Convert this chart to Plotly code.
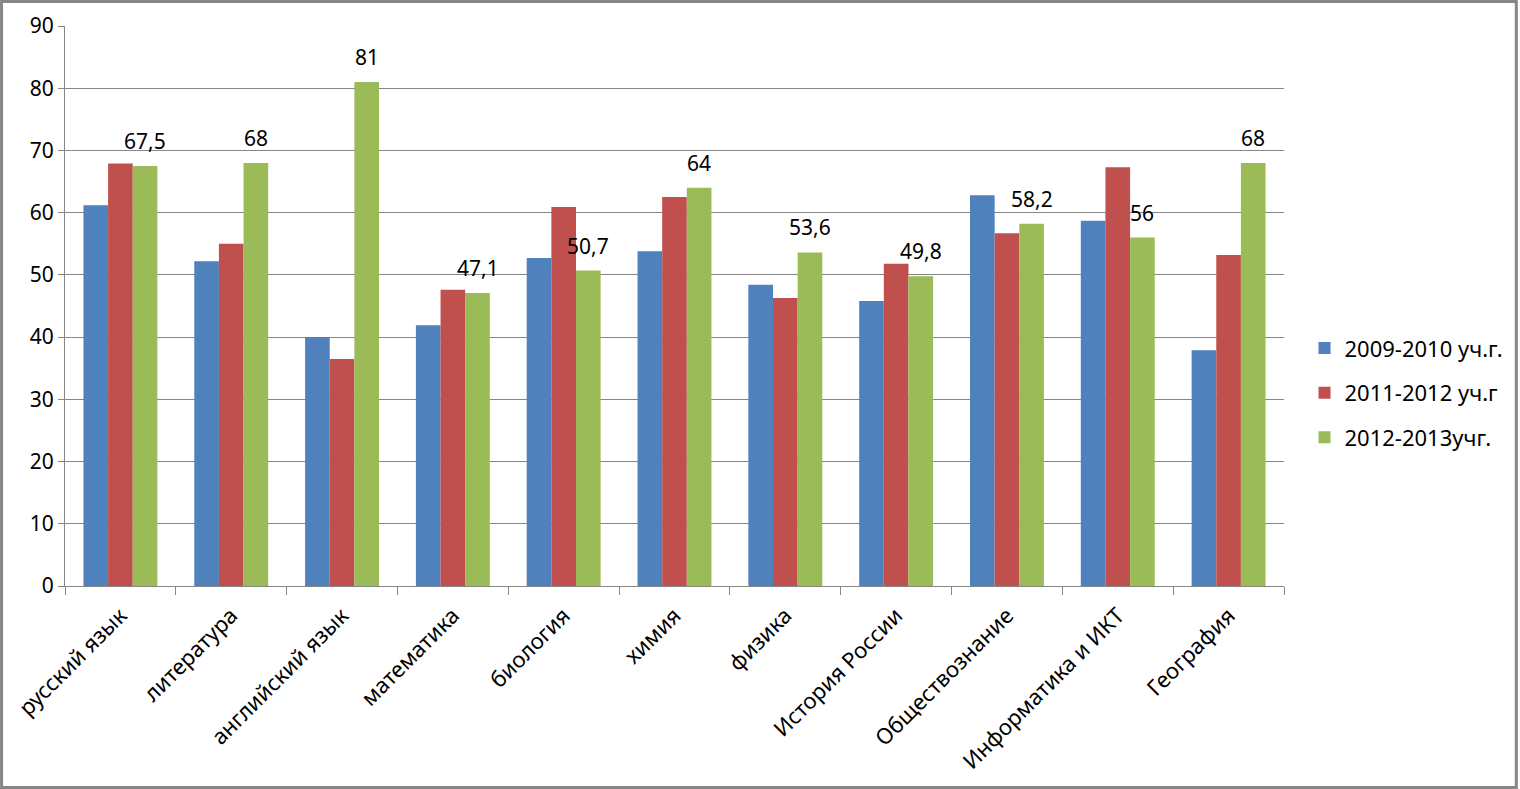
import plotly.graph_objects as go

categories = ["русский язык", "литература", "английский язык", "математика", "биология",
              "химия", "физика", "История России", "Обществознание", "Информатика и ИКТ", "География"]
series_names = ["2009-2010 уч.г.", "2011-2012 уч.г", "2012-2013учг."]
v2009 = [61.2, 52.2, 40.0, 41.9, 52.7, 53.8, 48.4, 45.8, 62.8, 58.7, 37.9]
v2011 = [67.9, 55.0, 36.5, 47.6, 60.9, 62.5, 46.3, 51.8, 56.7, 67.3, 53.2]
v2012 = [67.5, 68, 81, 47.1, 50.7, 64, 53.6, 49.8, 58.2, 56, 68]
colors = ["#4F81BD", "#C0504D", "#9BBB59"]
y_ticks = [0, 10, 20, 30, 40, 50, 60, 70, 80, 90]

FONT = "Noto Sans"
W, H = 1520, 789
ML, MR, MT, MB = 65, 235, 26, 203
BARGAP = 0.333

def fmt(v):
    return ("%g" % v).replace(".", ",")

fig = go.Figure()
for i, (name, vals) in enumerate(zip(series_names, [v2009, v2011, v2012])):
    fig.add_trace(go.Bar(x=categories, y=vals, name=name, marker_color=colors[i],
                         marker_line_width=0, legendgroup=name))

pw = W - ML - MR
ph = H - MT - MB
bar_w = pw / len(categories) * (1 - BARGAP) / 3

for c, v in zip(categories, v2012):
    fig.add_annotation(x=c, y=v, text=fmt(v), showarrow=False, xref="x", yref="y",
                       xanchor="center", yanchor="bottom", xshift=bar_w, yshift=9,
                       font=dict(size=21, color="black", family=FONT))

fig.add_shape(type="rect", xref="paper", yref="paper",
              x0=(1.5 - ML) / pw, x1=1 + (MR - 2.5) / pw,
              y0=-(MB - 1.5) / ph, y1=1 + (MT - 1.5) / ph,
              line=dict(color="#868686", width=3), layer="above")

fig.update_layout(
    width=W, height=H, margin=dict(l=ML, r=MR, t=MT, b=MB, pad=0),
    paper_bgcolor="white", plot_bgcolor="white",
    barmode="group", bargap=BARGAP, bargroupgap=0,
    font=dict(family=FONT, size=20, color="black"),
    showlegend=True,
    legend=dict(x=1.016, y=0.345, xanchor="left", yanchor="middle",
                font=dict(size=22, family=FONT), traceorder="grouped",
                tracegroupgap=13, itemwidth=30),
)
fig.update_xaxes(type="category", showline=True, linecolor="#868686", linewidth=1,
                 ticks="outside", tickson="boundaries", ticklen=8, tickcolor="#868686",
                 tickangle=-45, tickfont=dict(size=22, family=FONT), showgrid=False,
                 ticklabelstandoff=7)
fig.update_yaxes(range=[0, 90], tickvals=y_ticks, showline=True, linecolor="#868686",
                 linewidth=1, ticks="outside", ticklen=6, tickcolor="#868686",
                 showgrid=True, gridcolor="#868686", gridwidth=1,
                 tickfont=dict(size=21, family=FONT), zeroline=False)

fig.write_html("out.html")
